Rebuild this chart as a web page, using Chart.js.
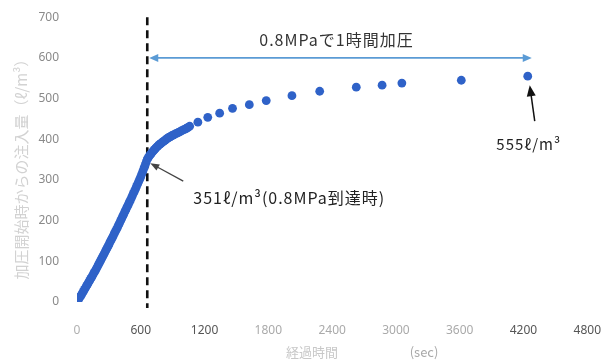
<!DOCTYPE html>
<html><head><meta charset="utf-8">
<script src="https://cdn.jsdelivr.net/npm/chart.js@4/dist/chart.umd.min.js"></script>
<style>html,body{margin:0;padding:0;background:#fff}#wrap{width:614px;height:363px;position:relative}</style>
</head><body><div id="wrap"><canvas id="c"></canvas></div>
<script>
// elapsed time (sec)
const timeSec = [0,10,20,30,40,50,60,70,80,90,100,110,120,130,140,150,160,170,180,190,200,210,220,230,240,250,260,270,280,290,
  300,310,320,330,340,350,360,370,380,390,400,410,420,430,440,450,460,470,480,490,500,510,520,530,540,550,560,570,580,590,
  600,610,620,630,640,650,661,
  670,680,690,700,710,720,730,740,750,760,770,780,790,800,810,820,830,840,850,860,870,880,890,900,910,925,940,955,970,985,1000,1015,1030,1045,1060,
  1137,1230,1342,1463,1621,1780,2022,2283,2627,2870,3056,3615,4240];
// injection volume since start of pressurization (ℓ/m³)
const injection = [0,4,9,13,17,22,26,31,35,40,44,49,53,58,62,67,72,76,81,86,91,96,101,106,111,116,121,126,131,136,
  141,147,152,157,162,168,173,178,183,189,194,200,205,211,216,222,227,233,238,244,249,255,261,267,272,278,284,290,296,302,
  308,315,322,329,336,343,351,
  355,359,362,366,369,372,375,378,381,383,386,388,390,392,394,396,398,400,402,404,405,407,408,410,411,413,415,417,419,421,423,425,427,429,432,
  442,454,464,476,485,495,507,518,528,533,538,545,555];
const xTickValues = [0,600,1200,1800,2400,3000,3600,4200,4800];
const yTickValues = [0,100,200,300,400,500,600,700];
const reachTime = 661, reachValue = 351;   // 0.8MPa reached
const endTime = 4240, endValue = 555;      // after 1 hour
const spanLevel = 600;                      // level of the 1-hour arrow
const texts = {
  span: '0.8MPaで1時間加圧',
  reach: '351ℓ/m³(0.8MPa到達時)',
  end: '555ℓ/m³',
  yTitle: '加圧開始時からの注入量（ℓ/m³）',
  xTitle: '経過時間',
  xUnit: '(sec)'
};

const JP = '"Noto Sans CJK JP", "Noto Sans", sans-serif';

function arrowHead(ctx, x1, y1, x2, y2, len, wid, color) {
  const a = Math.atan2(y2 - y1, x2 - x1);
  ctx.save();
  ctx.fillStyle = color;
  ctx.beginPath();
  ctx.moveTo(x2, y2);
  ctx.lineTo(x2 - len * Math.cos(a) + wid / 2 * Math.sin(a), y2 - len * Math.sin(a) - wid / 2 * Math.cos(a));
  ctx.lineTo(x2 - len * Math.cos(a) - wid / 2 * Math.sin(a), y2 - len * Math.sin(a) + wid / 2 * Math.cos(a));
  ctx.closePath();
  ctx.fill();
  ctx.restore();
}
function arrow(ctx, x1, y1, x2, y2, color, lw, len, wid) {
  const a = Math.atan2(y2 - y1, x2 - x1);
  ctx.save();
  ctx.strokeStyle = color; ctx.lineWidth = lw;
  ctx.beginPath(); ctx.moveTo(x1, y1);
  ctx.lineTo(x2 - (len - 1) * Math.cos(a), y2 - (len - 1) * Math.sin(a)); ctx.stroke();
  ctx.restore();
  arrowHead(ctx, x1, y1, x2, y2, len, wid, color);
}

const annot = {
  id: 'annot',
  beforeDatasetsDraw(chart) {
    const ctx = chart.ctx, xs = chart.scales.x, ys = chart.scales.y;
    const x = xs.getPixelForValue(reachTime);
    ctx.save();
    ctx.strokeStyle = '#111'; ctx.lineWidth = 2.6; ctx.setLineDash([8, 5]);
    ctx.beginPath(); ctx.moveTo(x, ys.getPixelForValue(700)); ctx.lineTo(x, ys.getPixelForValue(0) + 6); ctx.stroke();
    ctx.restore();
  },
  afterDraw(chart) {
    const ctx = chart.ctx, xs = chart.scales.x, ys = chart.scales.y;
    const ca = chart.chartArea;
    // 1-hour span arrow
    const yS = ys.getPixelForValue(spanLevel);
    const xa = xs.getPixelForValue(reachTime) + 2, xb = xs.getPixelForValue(endTime) + 4;
    const blue = '#5b9bd5';
    ctx.save();
    ctx.strokeStyle = blue; ctx.lineWidth = 1.6;
    ctx.beginPath(); ctx.moveTo(xa + 6, yS); ctx.lineTo(xb - 6, yS); ctx.stroke();
    ctx.restore();
    arrowHead(ctx, xb, yS, xa, yS, 9, 8, blue);
    arrowHead(ctx, xa, yS, xb, yS, 9, 8, blue);
    ctx.save();
    ctx.fillStyle = '#333';
    ctx.font = '16px ' + JP;
    ctx.letterSpacing = '1px';
    ctx.textAlign = 'center'; ctx.textBaseline = 'middle';
    ctx.fillText(texts.span, (xa + xb) / 2 - 4, yS - 18);
    // reach arrow & label
    const rx = xs.getPixelForValue(reachTime), ry = ys.getPixelForValue(reachValue);
    arrow(ctx, rx + 36, ry + 22, rx + 3, ry + 4, '#444', 1.3, 9, 7);
    ctx.fillStyle = '#222';
    ctx.font = '16px ' + JP;
    ctx.textAlign = 'left';
    ctx.fillText(texts.reach, rx + 46, ry + 39);
    // end arrow & label
    const ex = xs.getPixelForValue(endTime) + 2, ey = ys.getPixelForValue(endValue);
    arrow(ctx, ex + 5, ey + 45, ex, ey + 9, '#111', 1.5, 11, 9);
    ctx.font = '15px ' + JP;
    ctx.textAlign = 'center';
    ctx.fillText(texts.end, ex - 1, ey + 68);
    ctx.letterSpacing = '0px';
    // axis titles
    ctx.fillStyle = '#d2d2d2';
    ctx.font = '15px ' + JP;
    ctx.save();
    ctx.translate(21, (ca.top + ca.bottom) / 2 + 6);
    ctx.rotate(-Math.PI / 2);
    ctx.textAlign = 'center';
    ctx.fillText(texts.yTitle, 0, 0);
    ctx.restore();
    ctx.fillStyle = '#c8c8c8';
    ctx.font = '13px ' + JP;
    ctx.textAlign = 'center';
    ctx.fillText(texts.xTitle, 312, 352);
    ctx.fillStyle = '#a8a8a8';
    ctx.fillText(texts.xUnit, 424, 352);
    ctx.restore();
  }
};

const xColors = ['#b0b0b0','#555','#555','#aaa','#aaa','#aaa','#aaa','#555','#555'];

new Chart(document.getElementById('c'), {
  type: 'scatter',
  data: {
    datasets: [{
      data: timeSec.map((t, i) => ({ x: t, y: injection[i] })),
      backgroundColor: '#2f62c8',
      borderWidth: 0,
      pointRadius: 4.4,
      pointHoverRadius: 4.4
    }]
  },
  options: {
    responsive: true, maintainAspectRatio: false, animation: false,
    devicePixelRatio: 1,
    layout: { padding: { top: 17, right: 22, bottom: 0, left: 0 } },
    plugins: { legend: { display: false }, tooltip: { enabled: false } },
    scales: {
      x: {
        type: 'linear', min: 0, max: 4800,
        afterBuildTicks: s => { s.ticks = xTickValues.map(v => ({ value: v })); },
        afterFit: s => { s.height = 61; },
        grid: { display: false }, border: { display: false },
        ticks: { padding: 13, maxRotation: 0, font: { size: 12, family: '"Noto Sans", sans-serif' },
          callback: v => String(v),
          color: c => xColors[c.index] || '#555' }
      },
      y: {
        min: 0, max: 700,
        afterBuildTicks: s => { s.ticks = yTickValues.map(v => ({ value: v })); },
        afterFit: s => { s.width = 77; },
        grid: { display: false }, border: { display: false },
        ticks: { padding: 10, font: { size: 12, family: '"Noto Sans", sans-serif' }, color: '#8a8a8a',
          callback: v => String(v) }
      }
    }
  },
  plugins: [annot]
});
</script>
</body></html>
